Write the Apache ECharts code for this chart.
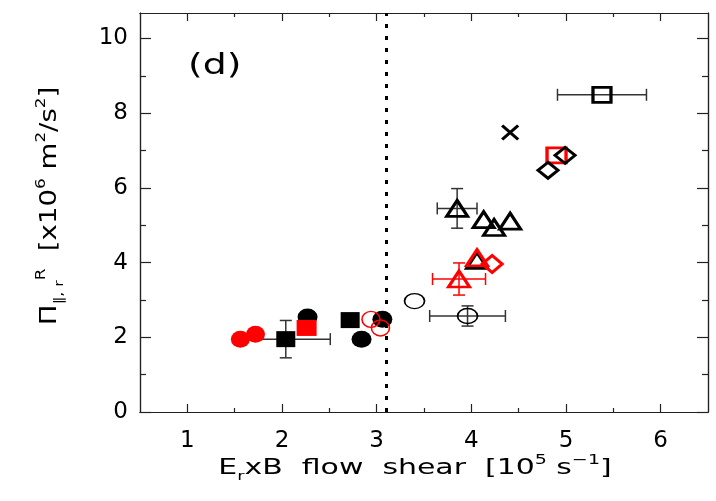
<!DOCTYPE html>
<html>
<head>
<meta charset="utf-8">
<script src="https://cdn.jsdelivr.net/npm/echarts/dist/echarts.min.js"></script>
<style>
  html, body { margin: 0; padding: 0; background: #fff; }
  #chart { width: 716px; height: 501px; }
</style>
</head>
<body>
<div id="chart"></div>
<script>
// axis ticks
var xMajor = [1, 2, 3, 4, 5, 6];
var xMinor = [1.5, 2.5, 3.5, 4.5, 5.5];
var yMajor = [0, 2, 4, 6, 8, 10];
var yMinor = [1, 3, 5, 7, 9];
var shearLimit = 3.1;

// points [shear, Pi]
var redFilledCircle = [[1.56, 1.95], [1.72, 2.08]];
var blackFilledCircle = [[2.27, 2.54], [2.84, 1.95], [3.06, 2.48]];
var blackFilledSquare = [[2.04, 1.95], [2.72, 2.46]];
var redFilledSquare = [[2.26, 2.25]];
var redOpenCircle = [[2.94, 2.48], [3.04, 2.25]];
var blackOpenCircle = [[3.40, 2.97], [3.96, 2.57]];
var blackOpenTriangle = [[3.85, 5.45], [4.13, 5.15], [4.24, 4.94], [4.41, 5.11], [4.06, 4.06]];
var redOpenTriangle = [[3.87, 3.56], [4.06, 4.13]];
var redOpenDiamond = [[4.22, 3.96]];
var redOpenSquare = [[4.90, 6.87]];
var blackOpenDiamond = [[4.81, 6.47], [4.99, 6.87]];
var blackOpenSquare = [[5.38, 8.49]];
var blackCross = [[4.41, 7.48]];

// error bars [x, y, xerr, yerr]
var blackErrors = [[2.04, 1.95, 0.47, 0.50], [3.96, 2.57, 0.40, 0.27], [3.85, 5.45, 0.21, 0.53], [5.38, 8.49, 0.47, 0]];
var redErrors = [[3.87, 3.56, 0.28, 0.43]];

var xTitle = 'E{sub|r}xB  flow  shear  [10{sup|5} s{sup|−1}]';
var yTitle = 'Π{sub|∥, r}{sup|R}  [x10{sup|6} m{sup|2}/s{sup|2}]';
var panelLabel = '(d)';

var font = 'DejaVu Sans';
var richTitle = {
  sup: { fontFamily: font, fontSize: 14, lineHeight: 14, verticalAlign: 'top', fill: '#000' },
  sub: { fontFamily: font, fontSize: 13, lineHeight: 13, verticalAlign: 'bottom', fill: '#000' }
};

function errorBars (color) {
  return function (params, api) {
    var x = api.value(0), y = api.value(1), ex = api.value(2), ey = api.value(3);
    var style = { stroke: color, lineWidth: 1.5 };
    var kids = [];
    if (ex > 0) {
      var a = api.coord([x - ex, y]), b = api.coord([x + ex, y]);
      kids.push({ type: 'line', shape: { x1: a[0], y1: a[1], x2: b[0], y2: b[1] }, style: style });
      kids.push({ type: 'line', shape: { x1: a[0], y1: a[1] - 6, x2: a[0], y2: a[1] + 6 }, style: style });
      kids.push({ type: 'line', shape: { x1: b[0], y1: b[1] - 6, x2: b[0], y2: b[1] + 6 }, style: style });
    }
    if (ey > 0) {
      var c = api.coord([x, y - ey]), d = api.coord([x, y + ey]);
      kids.push({ type: 'line', shape: { x1: c[0], y1: c[1], x2: d[0], y2: d[1] }, style: style });
      kids.push({ type: 'line', shape: { x1: c[0] - 6, y1: c[1], x2: c[0] + 6, y2: c[1] }, style: style });
      kids.push({ type: 'line', shape: { x1: d[0] - 6, y1: d[1], x2: d[0] + 6, y2: d[1] }, style: style });
    }
    return { type: 'group', children: kids };
  };
}

function filled (data, color, symbol, size) {
  return {
    type: 'scatter', data: data, symbol: symbol, symbolSize: size,
    itemStyle: { color: color, opacity: 1 }
  };
}
function open (data, color, symbol, size, width) {
  return {
    type: 'scatter', data: data, symbol: symbol, symbolSize: size,
    itemStyle: { color: 'rgba(0,0,0,0)', borderColor: color, borderWidth: width, opacity: 1 }
  };
}

function xAxisDef (pos, ticks, len, labels) {
  return {
    type: 'value', position: pos, min: 0.5, max: 6.5,
    axisLine: { show: true, onZero: false, lineStyle: { color: '#222', width: 1.2 } },
    axisTick: { show: true, inside: true, length: len, customValues: ticks, lineStyle: { color: '#222', width: 1.2 } },
    axisLabel: labels ? { show: true, customValues: xMajor, margin: 18, color: '#000', fontFamily: font, fontSize: 23 } : { show: false },
    splitLine: { show: false }
  };
}
function yAxisDef (pos, ticks, len, labels) {
  return {
    type: 'value', position: pos, min: 0, max: 10.68,
    axisLine: { show: true, onZero: false, lineStyle: { color: '#222', width: 1.2 } },
    axisTick: { show: true, inside: true, length: len, customValues: ticks, lineStyle: { color: '#222', width: 1.2 } },
    axisLabel: labels ? { show: true, customValues: yMajor, margin: 12, color: '#000', fontFamily: font, fontSize: 23 } : { show: false },
    splitLine: { show: false }
  };
}

var chart = echarts.init(document.getElementById('chart'), null, { renderer: 'canvas' });
chart.setOption({
  animation: false,
  backgroundColor: '#fff',
  grid: { left: 140, right: 8, top: 13, bottom: 89 },
  xAxis: [
    xAxisDef('bottom', xMajor, 8, true),
    xAxisDef('bottom', xMinor, 4, false),
    xAxisDef('top', xMajor, 8, false),
    xAxisDef('top', xMinor, 4, false)
  ],
  yAxis: [
    yAxisDef('left', yMajor, 11, true),
    yAxisDef('left', yMinor, 6, false),
    yAxisDef('right', yMajor, 11, false),
    yAxisDef('right', yMinor, 6, false)
  ],
  graphic: [
    {
      type: 'text', x: 188, y: 52, scaleX: 1.3,
      style: { text: panelLabel, fontFamily: font, fontSize: 29, fill: '#000' }
    },
    {
      type: 'text', x: 415, y: 468, scaleX: 1.36,
      style: {
        text: xTitle, fontFamily: font, fontSize: 22, lineHeight: 30, fill: '#000',
        align: 'center', verticalAlign: 'middle', rich: richTitle
      }
    },
    {
      type: 'text', x: 50, y: 206, rotation: Math.PI / 2, scaleX: 1.2,
      style: {
        text: yTitle, fontFamily: font, fontSize: 23, lineHeight: 32, fill: '#000',
        align: 'center', verticalAlign: 'middle', rich: richTitle
      }
    }
  ],
  series: [
    {
      type: 'scatter', data: [], silent: true,
      markLine: {
        silent: true, symbol: 'none', label: { show: false },
        lineStyle: { color: '#000', width: 3, type: [4, 8] },
        data: [{ xAxis: shearLimit }]
      }
    },
    { type: 'custom', data: blackErrors, renderItem: errorBars('#333'), encode: { x: 0, y: 1 }, silent: true },
    { type: 'custom', data: redErrors, renderItem: errorBars('#f00'), encode: { x: 0, y: 1 }, silent: true },
    filled(redFilledCircle, '#f00', 'circle', [19, 17]),
    filled(blackFilledCircle, '#000', 'circle', [20, 17]),
    filled(blackFilledSquare, '#000', 'rect', [19, 16]),
    filled(redFilledSquare, '#f00', 'rect', [20, 16]),
    open(redOpenCircle, '#f00', 'circle', [18, 16], 1.5),
    open(blackOpenCircle, '#000', 'circle', [20, 15], 1.5),
    open(blackOpenTriangle, '#000', 'triangle', [21, 16], 3),
    open(redOpenTriangle, '#f00', 'triangle', [21, 16], 3),
    open(redOpenDiamond, '#f00', 'diamond', [20, 17], 3),
    open(redOpenSquare, '#f00', 'rect', [19, 15], 3),
    open(blackOpenDiamond, '#000', 'diamond', [20, 16], 3),
    open(blackOpenSquare, '#000', 'rect', [18, 15], 3),
    open(blackCross, '#000', 'path://M0,0L10,10M10,0L0,10', [16, 14], 3)
  ]
});
</script>
</body>
</html>
